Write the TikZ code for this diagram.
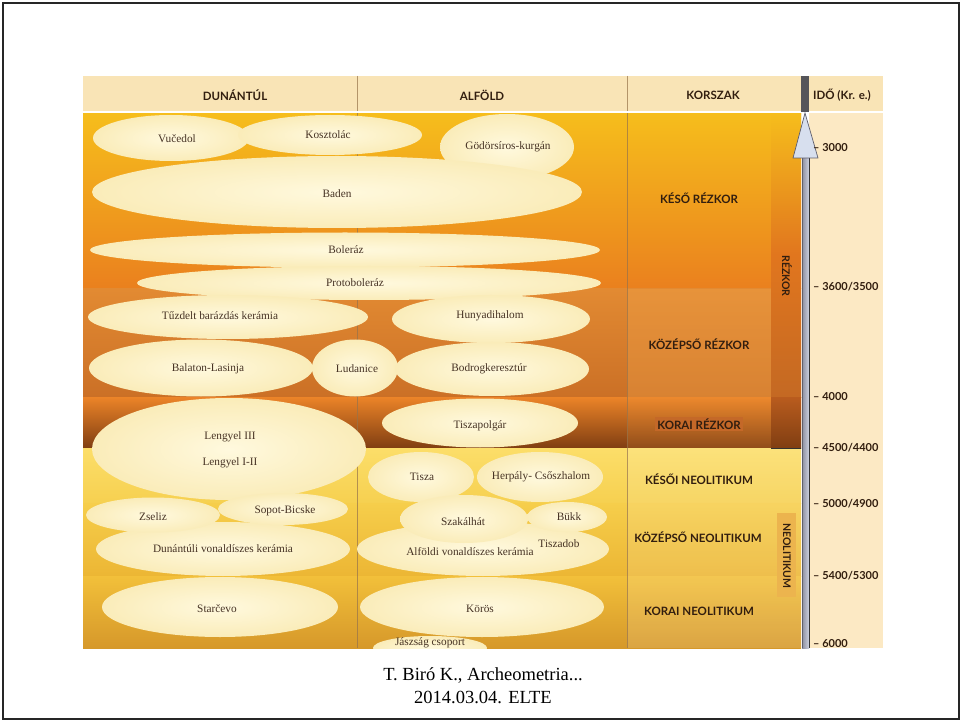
\documentclass[tikz,border=0pt]{standalone}
\usepackage{fontspec}
\setmainfont{Liberation Serif}
\newfontfamily\hdrfont{Lato}
\usetikzlibrary{shapes.geometric}
\definecolor{hdr}{RGB}{249,228,182}
\definecolor{timecol}{RGB}{252,233,196}
\definecolor{kra}{RGB}{246,190,28}
\definecolor{krb}{RGB}{234,128,30}
\definecolor{kza}{RGB}{226,138,50}
\definecolor{kzb}{RGB}{203,112,38}
\definecolor{koa}{RGB}{236,132,40}
\definecolor{kob}{RGB}{128,62,18}
\definecolor{nla}{RGB}{252,222,105}
\definecolor{nlb}{RGB}{246,208,80}
\definecolor{nma}{RGB}{246,206,75}
\definecolor{nmb}{RGB}{236,182,52}
\definecolor{nea}{RGB}{242,192,58}
\definecolor{neb}{RGB}{214,152,42}
\definecolor{stripmid}{RGB}{225,118,30}
\definecolor{stripbot}{RGB}{196,105,35}
\definecolor{stripko}{RGB}{185,92,30}
\definecolor{neobox}{RGB}{236,180,78}
\definecolor{korbox}{RGB}{196,104,40}
\definecolor{inner}{RGB}{242,165,75}
\definecolor{shaftl}{RGB}{140,142,158}
\definecolor{shaftr}{RGB}{205,210,225}
\definecolor{ellcen}{RGB}{255,249,222}
\definecolor{elledge}{RGB}{250,236,185}
\definecolor{txt}{RGB}{70,50,35}
\definecolor{txtd}{RGB}{50,30,15}
\definecolor{divl}{RGB}{150,115,75}
\definecolor{arrowc}{RGB}{215,223,238}
\definecolor{arrowd}{RGB}{95,95,108}
\definecolor{barc}{RGB}{85,85,90}
\begin{document}
\begin{tikzpicture}[x=1pt,y=-1pt,
  cult/.style={ellipse, inner sep=0pt, draw=none, shading=radial, inner color=ellcen, outer color=elledge},
  lbl/.style={font=\fontsize{11.3}{13}\selectfont, text=txt, inner sep=1pt},
  per/.style={font=\hdrfont\bfseries\fontsize{11.5}{13}\selectfont, text=txtd, inner sep=2pt},
  hd/.style={font=\hdrfont\bfseries\fontsize{11.5}{13}\selectfont, text=txtd},
  tick/.style={font=\hdrfont\bfseries\fontsize{11}{13}\selectfont, text=txtd, anchor=west, inner sep=0pt},
  vlab/.style={font=\hdrfont\bfseries\fontsize{10.5}{12}\selectfont, text=txtd, rotate=-90, inner sep=2pt},
  foot/.style={font=\fontsize{18.5}{23}\selectfont, text=black, align=center}
]
\useasboundingbox (0,0) rectangle (962,722);
\fill[white] (0,0) rectangle (962,722);
\draw[line width=1.6pt, black!85] (3,3) rectangle (959,719);
% header and time column
\fill[hdr] (83,76) rectangle (883,112);
\fill[timecol] (809,112) rectangle (883,648);
% bands
\shade[top color=kra, bottom color=krb] (83,112) rectangle (801,289);
\shade[top color=kza, bottom color=kzb] (83,289) rectangle (801,397);
\shade[top color=koa, bottom color=kob] (83,397) rectangle (801,448);
\shade[top color=nla, bottom color=nlb] (83,448) rectangle (801,503);
\shade[top color=nma, bottom color=nmb] (83,503) rectangle (801,576);
\shade[top color=nea, bottom color=neb] (83,576) rectangle (801,648);
% korszak column overlays
\fill[inner, opacity=0.35] (627,289) rectangle (771,397);
\fill[inner, opacity=0.15] (627,397) rectangle (771,448);
\fill[white, opacity=0.12] (627,448) rectangle (801,648);
\shade[top color=kra, bottom color=stripbot, middle color=stripmid] (771,112) rectangle (801,397);
\shade[top color=stripko, bottom color=kob] (771,397) rectangle (801,448);
\draw[line width=1.2pt, black!80] (771,448.5) -- (801,448.5);
\fill[neobox] (777,513) rectangle (796,597);
% dividers
\draw[divl, line width=0.5pt, opacity=0.7] (357,76) -- (357,648);
\draw[divl, line width=0.5pt, opacity=0.7] (627,76) -- (627,648);
\draw[white, line width=1.5pt] (83,112) -- (883,112);
% time bar and arrow
\fill[barc] (801,76) rectangle (809,112);
\shade[left color=shaftl, right color=shaftr] (802,158) rectangle (809,648);
\draw[arrowd, line width=0.7pt] (802,648) -- (802,158);
\draw[black!80, line width=0.9pt] (809,648) -- (809,158);
\filldraw[fill=arrowc, draw=arrowd, line width=0.7pt] (802,158) -- (793,158) -- (805,113) -- (818,158) -- (809,158) -- cycle;
% header labels
\node[hd] (hdun) at (235,95) {DUNÁNTÚL};
\node[hd] (half) at (482,95) {ALFÖLD};
\node[hd] (hkor) at (713,95) {KORSZAK};
\node[hd, anchor=west, inner sep=0pt] (hido) at (813,95) {IDŐ (Kr. e.)};
% ticks
\node[tick] (t1) at (813,148) {– 3000};
\node[tick] (t2) at (813,287) {– 3600/3500};
\node[tick] (t3) at (813,397) {– 4000};
\node[tick] (t4) at (813,448) {– 4500/4400};
\node[tick] (t5) at (813,504) {– 5000/4900};
\node[tick] (t6) at (813,576) {– 5400/5300};
\node[tick] (t7) at (813,644) {– 6000};
% period labels
\node[per] (p1) at (699,198) {KÉSŐ RÉZKOR};
\node[per] (p2) at (699,344) {KÖZÉPSŐ RÉZKOR};
\node[per, fill=korbox] (p3) at (699,424) {KORAI RÉZKOR};
\node[per] (p4) at (699,479) {KÉSŐI NEOLITIKUM};
\node[per] (p5) at (698,537) {KÖZÉPSŐ NEOLITIKUM};
\node[per] (p6) at (699,611) {KORAI NEOLITIKUM};
\node[vlab] (vr) at (787,276) {RÉZKOR};
\node[vlab] (vn) at (787,556) {NEOLITIKUM};
% culture ellipses
\begin{scope}
\clip (83,112) rectangle (801,648);
\node[cult, minimum width=156, minimum height=46] (e1) at (171,138) {};
\node[cult, minimum width=184, minimum height=40] (e2) at (330,135) {};
\node[cult, minimum width=134, minimum height=66] (e3) at (507,147) {};
\node[cult, minimum width=490, minimum height=72] (e4) at (337,192) {};
\node[cult, minimum width=510, minimum height=35] (e5) at (345,250) {};
\node[cult, minimum width=464, minimum height=34] (e6) at (369,283) {};
\node[cult, minimum width=280, minimum height=44] (e7) at (228,317) {};
\node[cult, minimum width=198, minimum height=48] (e8) at (491,319) {};
\node[cult, minimum width=224, minimum height=57] (e9) at (201,368) {};
\node[cult, minimum width=86, minimum height=57] (e10) at (355,368) {};
\node[cult, minimum width=194, minimum height=54] (e11) at (492,369) {};
\node[cult, minimum width=274, minimum height=102] (e12) at (229,449) {};
\node[cult, minimum width=196, minimum height=49] (e13) at (480,423) {};
\node[cult, minimum width=106, minimum height=50] (e14) at (421,477) {};
\node[cult, minimum width=126, minimum height=50] (e15) at (540,477) {};
\node[cult, minimum width=254, minimum height=54] (e18) at (223,549) {};
\node[cult, minimum width=252, minimum height=54] (e20) at (483,549) {};
\node[cult, minimum width=134, minimum height=35] (e16) at (153,515) {};
\node[cult, minimum width=130, minimum height=32] (e17) at (283,509) {};
\node[cult, minimum width=128, minimum height=48] (e19) at (464,519) {};
\node[cult, minimum width=80, minimum height=30] (e21) at (567,517) {};
\node[cult, minimum width=236, minimum height=60] (e23) at (220,607) {};
\node[cult, minimum width=244, minimum height=60] (e24) at (482,607) {};
\node[cult, minimum width=114, minimum height=24] (e25) at (430,648) {};
\end{scope}
% culture labels
\node[lbl] (l1) at (177,139) {Vučedol};
\node[lbl] (l2) at (328,135) {Kosztolác};
\node[lbl] (l3) at (508,147) {Gödörsíros-kurgán};
\node[lbl] (l4) at (337,194) {Baden};
\node[lbl] (l5) at (346,250) {Boleráz};
\node[lbl] (l6) at (355,283) {Protoboleráz};
\node[lbl] (l7) at (220,316) {Tűzdelt barázdás kerámia};
\node[lbl] (l8) at (490,316) {Hunyadihalom};
\node[lbl] (l9) at (208,369) {Balaton-Lasinja};
\node[lbl] (l10) at (357,369) {Ludanice};
\node[lbl] (l11) at (489,369) {Bodrogkeresztúr};
\node[lbl] (l12a) at (230,437) {Lengyel III};
\node[lbl] (l12b) at (230,463) {Lengyel I-II};
\node[lbl] (l13) at (480,426) {Tiszapolgár};
\node[lbl] (l14) at (422,477) {Tisza};
\node[lbl] (l15) at (541,477) {Herpály- Csőszhalom};
\node[lbl] (l16) at (153,517) {Zseliz};
\node[lbl] (l17) at (285,511) {Sopot-Bicske};
\node[lbl] (l18) at (223,549) {Dunántúli vonaldíszes kerámia};
\node[lbl] (l19) at (463,522) {Szakálhát};
\node[lbl] (l20) at (470,552) {Alföldi vonaldíszes kerámia};
\node[lbl] (l21) at (569,517) {Bükk};
\node[lbl] (l22) at (559,544) {Tiszadob};
\node[lbl] (l23) at (217,609) {Starčevo};
\node[lbl] (l24) at (480,609) {Körös};
\node[lbl] (l25) at (430,643) {Jászság csoport};
% footer
\node[foot] (f) at (483,685.5) {T. Biró K., Archeometria...\\2014.03.04. ELTE};
\end{tikzpicture}
\end{document}
